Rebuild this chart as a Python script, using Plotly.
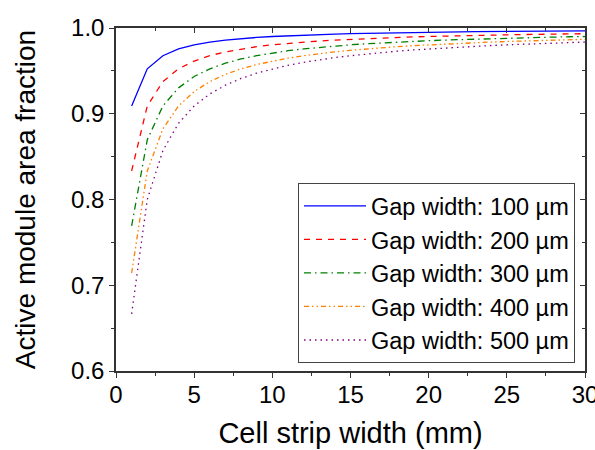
import plotly.graph_objects as go

# Cell strip width (mm)
strip_width = list(range(1, 31))

# Active module area fraction for each interconnect gap width
frac_100 = [0.9091, 0.9524, 0.9677, 0.9756, 0.9804, 0.9836, 0.9859, 0.9877, 0.9890, 0.9901,
            0.9910, 0.9917, 0.9924, 0.9929, 0.9934, 0.9938, 0.9942, 0.9945, 0.9948, 0.9950,
            0.9953, 0.9955, 0.9957, 0.9959, 0.9960, 0.9962, 0.9963, 0.9964, 0.9966, 0.9967]
frac_200 = [0.8333, 0.9091, 0.9375, 0.9524, 0.9615, 0.9677, 0.9722, 0.9756, 0.9783, 0.9804,
            0.9821, 0.9836, 0.9848, 0.9859, 0.9868, 0.9877, 0.9884, 0.9890, 0.9896, 0.9901,
            0.9906, 0.9910, 0.9914, 0.9917, 0.9921, 0.9924, 0.9926, 0.9929, 0.9932, 0.9934]
frac_300 = [0.7692, 0.8696, 0.9091, 0.9302, 0.9434, 0.9524, 0.9589, 0.9639, 0.9677, 0.9709,
            0.9735, 0.9756, 0.9774, 0.9790, 0.9804, 0.9816, 0.9827, 0.9836, 0.9845, 0.9852,
            0.9859, 0.9865, 0.9871, 0.9877, 0.9881, 0.9886, 0.9890, 0.9894, 0.9898, 0.9901]
frac_400 = [0.7143, 0.8333, 0.8824, 0.9091, 0.9259, 0.9375, 0.9459, 0.9524, 0.9574, 0.9615,
            0.9649, 0.9677, 0.9701, 0.9722, 0.9740, 0.9756, 0.9770, 0.9783, 0.9794, 0.9804,
            0.9813, 0.9821, 0.9829, 0.9836, 0.9843, 0.9848, 0.9854, 0.9859, 0.9864, 0.9868]
frac_500 = [0.6667, 0.8000, 0.8571, 0.8889, 0.9091, 0.9231, 0.9333, 0.9412, 0.9474, 0.9524,
            0.9565, 0.9600, 0.9630, 0.9655, 0.9677, 0.9697, 0.9714, 0.9730, 0.9744, 0.9756,
            0.9767, 0.9778, 0.9787, 0.9796, 0.9804, 0.9811, 0.9818, 0.9825, 0.9831, 0.9836]

series_names = ["Gap width: 100 µm", "Gap width: 200 µm", "Gap width: 300 µm",
                "Gap width: 400 µm", "Gap width: 500 µm"]
series_values = [frac_100, frac_200, frac_300, frac_400, frac_500]
series_colors = ["#0000FF", "#FF0000", "#008000", "#FF8000", "#800080"]
series_dashes = ["solid", "6px,6px", "7px,4px,1.5px,4px",
                 "5px,3px,1.5px,3px,1.5px,3px", "1.5px,4px"]

FONT = "Liberation Sans, Arial, Helvetica, sans-serif"
AXIS_COLOR = "#333333"

fig = go.Figure()
for name, vals, color, dash in zip(series_names, series_values, series_colors, series_dashes):
    fig.add_trace(go.Scatter(
        x=strip_width, y=vals, mode="lines", name=name,
        line=dict(color=color, width=1.3, dash=dash),
    ))

# empty trace so the mirrored frame axes (top / right) are laid out
fig.add_trace(go.Scatter(x=[], y=[], xaxis="x2", yaxis="y2", showlegend=False,
                         hoverinfo="skip"))

common = dict(showgrid=False, zeroline=False, showline=True, automargin=False,
              linecolor=AXIS_COLOR, linewidth=1.5, tickcolor=AXIS_COLOR,
              tickwidth=1.3)

fig.update_layout(
    width=595, height=450,
    margin=dict(l=116, r=10, t=28, b=79, autoexpand=False),
    paper_bgcolor="white", plot_bgcolor="white",
    font=dict(family=FONT, color="black", size=24),
    xaxis=dict(
        range=[0, 30], tick0=0, dtick=5, ticks="outside", ticklen=5,
        minor=dict(dtick=2.5, ticks="outside", ticklen=3, tickcolor=AXIS_COLOR),
        tickfont=dict(size=24), ticklabeloverflow="allow", ticklabelstandoff=-4,
        title=dict(text="Cell strip width (mm)", font=dict(size=29), standoff=16),
        **common,
    ),
    yaxis=dict(
        range=[0.6, 1.0], tick0=0.6, dtick=0.1, tickformat=".1f",
        ticks="outside", ticklen=5,
        minor=dict(dtick=0.05, ticks="outside", ticklen=3, tickcolor=AXIS_COLOR),
        tickfont=dict(size=24), ticklabeloverflow="allow",
        title=dict(text="Active module area fraction", font=dict(size=28), standoff=27),
        **common,
    ),
    xaxis2=dict(
        overlaying="x", side="top", matches="x", range=[0, 30], tick0=0, dtick=5,
        ticks="inside", ticklen=5, showticklabels=False,
        minor=dict(dtick=2.5, ticks="inside", ticklen=3, tickcolor=AXIS_COLOR),
        anchor="y",
        **common,
    ),
    yaxis2=dict(
        overlaying="y", side="right", matches="y", range=[0.6, 1.0], tick0=0.6,
        dtick=0.1, ticks="inside", ticklen=5, showticklabels=False,
        minor=dict(dtick=0.05, ticks="inside", ticklen=3, tickcolor=AXIS_COLOR),
        anchor="x",
        **common,
    ),
    legend=dict(
        x=0.9787, y=0.0233, xanchor="right", yanchor="bottom",
        bgcolor="white", bordercolor="#444444", borderwidth=1,
        font=dict(size=23.5, family=FONT), itemwidth=62,
        tracegroupgap=0,
    ),
    showlegend=True,
)

fig.write_html("out.html")
